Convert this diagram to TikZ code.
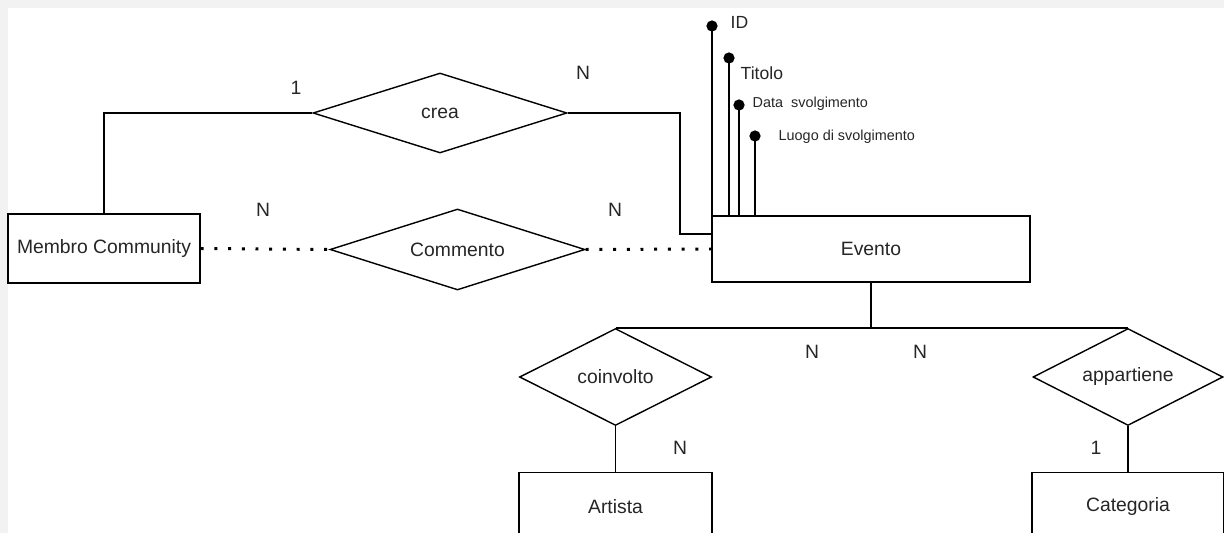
\documentclass[tikz,border=0pt]{standalone}
\usepackage{fontspec}
\setmainfont{Liberation Sans}
\usetikzlibrary{shapes.geometric}

\begin{document}
\begin{tikzpicture}[
x=0.02cm, y=-0.02cm,
line width=0.8pt,
every node/.style={font=\fontsize{11}{13}\selectfont, text=black!85},
entity/.style ={draw, rectangle, inner sep=0pt, minimum width=3.84cm, minimum height=1.38cm},
relation/.style ={draw, diamond, aspect=3, inner sep=0pt, minimum width=5.08cm, minimum height=1.6cm},
% small diamonds below Evento
subrel/.style ={relation, minimum width=3.84cm, minimum height=1.94cm},
card/.style={font=\fontsize{11}{13}\selectfont},
attr/.style={circle, fill, inner sep=0pt, minimum size=6.4pt},
attrlabel/.style={anchor=west, inner sep=0pt},
weak/.style={line width=1.7pt, dash pattern=on 1.7pt off 6.1pt}
]

% page with its grey edge
\fill[gray!10] (0,0) rectangle (1224,533);
\fill[white] (8,8) rectangle (1224,533);
\clip (0,0) rectangle (1224,533);

\node[entity] (membro) at (104,248.5) {Membro Community};
\node[entity, minimum width=6.36cm, minimum height=1.32cm] (evento) at (871,249) {Evento};
\node[relation] (crea) at (440,113) {crea};
\node[relation, minimum width=5.1cm, minimum height=1.62cm] (commento) at (457.5,249.5) {Commento};
\node[subrel] (coinvolto) at (615.5,377) {coinvolto};
\node[subrel, minimum width=3.8cm] (appartiene) at (1128,377) {appartiene};
\node[entity, minimum width=3.86cm] (artista) at (615.5,507) {Artista};
\node[entity] (categoria) at (1128,507) {Categoria};

\coordinate (bend) at (680,234);
\coordinate (split) at (871,328);

\draw (membro.north) |- (crea.west);
\draw (crea.east) -| (bend) -- (evento.west |- bend);
\draw[weak] (membro.east) -- (commento.west);
\draw[weak] (commento.east) -- (evento.west);
\draw (evento.south) -- (split);
\draw (coinvolto.north) -- (appartiene.north);
\draw (coinvolto.south) -- (artista.north);
\draw (appartiene.south) -- (categoria.north);

\begin{scope}[every node/.style={text=black!85}]
\node[attr] (attr-id) at (712,26) {};
\node[attr] (attr-titolo) at (729,58) {};
\node[attr] (attr-data) at (739,105) {};
\node[attr] (attr-luogo) at (755,136) {};
\draw (attr-id.center) -- (attr-id |- evento.north);
\draw (attr-titolo.center) -- (attr-titolo |- evento.north);
\draw (attr-data.center) -- (attr-data |- evento.north);
\draw (attr-luogo.center) -- (attr-luogo |- evento.north);
\node[attrlabel, font=\fontsize{10}{12}\selectfont] (label-id) at (730,22) {ID};
\node[attrlabel, font=\fontsize{10}{12}\selectfont] (label-titolo) at (740,73) {Titolo};
\node[attrlabel, font=\fontsize{8.2}{10}\selectfont] (label-data) at (752,104) {Data\ \ svolgimento};
\node[attrlabel, font=\fontsize{8.2}{10}\selectfont] (label-luogo) at (778,137) {Luogo di svolgimento};
\end{scope}

\node[card] (card-crea-membro) at (296,88) {1};
\node[card] (card-crea-evento) at (583,73) {N};
\node[card] (card-comm-membro) at (263,210) {N};
\node[card] (card-comm-evento) at (615,210) {N};
\node[card] (card-coinv-evento) at (812,352) {N};
\node[card] (card-appart-evento) at (920,352) {N};
\node[card] (card-coinv-artista) at (680,448) {N};
\node[card] (card-appart-cat) at (1096,448) {1};
\end{tikzpicture}
\end{document}
